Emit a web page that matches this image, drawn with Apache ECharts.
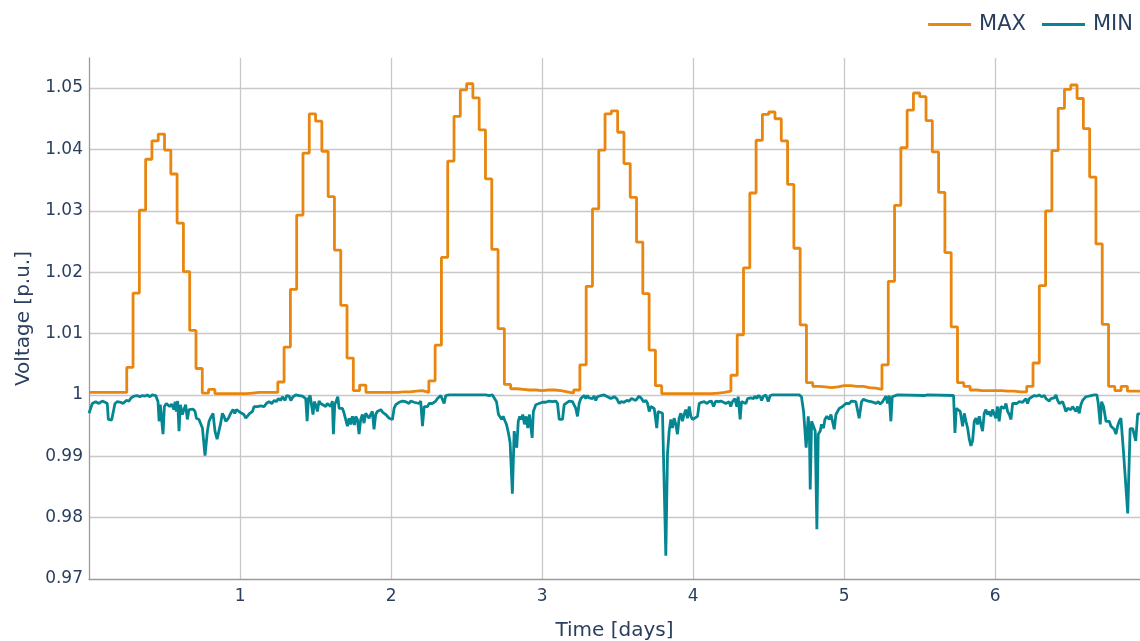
<!DOCTYPE html>
<html>
<head>
<meta charset="utf-8">
<script src="https://cdn.jsdelivr.net/npm/echarts@6/dist/echarts.min.js"></script>
<style>
  html, body { margin: 0; padding: 0; background: #fff; }
  #chart { width: 1140px; height: 641px; }
</style>
</head>
<body>
<div id="chart"></div>
<script>
// hourly maximum voltage, one row per day (24 values)
var maxDay0 = [1.0004, 1.0004, 1.0004, 1.0004, 1.0004, 1.0004, 1.0045, 1.0166, 1.0301, 1.0384, 1.0414, 1.0425, 1.0399, 1.0360, 1.0280, 1.0201, 1.0105, 1.0043, 1.0003, 1.0009, 1.0002, 1.0002, 1.0002, 1.0002]
var maxDay1 = [1.0002, 1.0003, 1.0004, 1.0004, 1.0004, 1.0004, 1.0021, 1.0078, 1.0172, 1.0293, 1.0394, 1.0458, 1.0446, 1.0397, 1.0323, 1.0236, 1.0146, 1.0060, 1.0007, 1.0016, 1.0004, 1.0004, 1.0004, 1.0004]
var maxDay2 = [1.0004, 1.0005, 1.0005, 1.0006, 1.0007, 1.0004, 1.0023, 1.0081, 1.0224, 1.0381, 1.0454, 1.0497, 1.0507, 1.0484, 1.0432, 1.0352, 1.0237, 1.0108, 1.0017, 1.0010, 1.0009, 1.0008, 1.0008, 1.0007]
var maxDay3 = [1.0008, 1.0008, 1.0007, 1.0005, 1.0003, 1.0008, 1.0049, 1.0177, 1.0303, 1.0399, 1.0458, 1.0463, 1.0428, 1.0377, 1.0322, 1.0249, 1.0165, 1.0073, 1.0015, 1.0002, 1.0002, 1.0002, 1.0002, 1.0002]
var maxDay4 = [1.0002, 1.0002, 1.0002, 1.0003, 1.0004, 1.0006, 1.0032, 1.0098, 1.0207, 1.0329, 1.0415, 1.0457, 1.0461, 1.0450, 1.0414, 1.0343, 1.0239, 1.0114, 1.0020, 1.0014, 1.0013, 1.0012, 1.0013, 1.0015]
var maxDay5 = [1.0015, 1.0014, 1.0014, 1.0012, 1.0011, 1.0009, 1.0049, 1.0185, 1.0309, 1.0403, 1.0464, 1.0492, 1.0486, 1.0447, 1.0396, 1.0330, 1.0232, 1.0111, 1.0020, 1.0014, 1.0008, 1.0007, 1.0007, 1.0007]
var maxDay6 = [1.0007, 1.0006, 1.0006, 1.0005, 1.0005, 1.0014, 1.0052, 1.0178, 1.0300, 1.0398, 1.0467, 1.0498, 1.0505, 1.0483, 1.0434, 1.0355, 1.0246, 1.0115, 1.0014, 1.0007, 1.0014, 1.0006, 1.0006, 1.0007]
var maxVals = [].concat(maxDay0, maxDay1, maxDay2, maxDay3, maxDay4, maxDay5, maxDay6)

// minimum voltage, irregular time stamps [days]
var minDays = [0.000, 0.011, 0.022, 0.044, 0.066, 0.088, 0.106, 0.121, 0.128, 0.150, 0.159, 0.172, 0.188, 0.210, 0.225, 0.238, 0.247, 0.265, 0.278, 0.298,
  0.320, 0.336, 0.353, 0.371, 0.386, 0.404, 0.419, 0.442, 0.457, 0.464, 0.472, 0.481, 0.490, 0.499, 0.512, 0.525, 0.534, 0.547, 0.563, 0.570,
  0.578, 0.587, 0.596, 0.605, 0.618, 0.631, 0.640, 0.651, 0.662, 0.673, 0.689, 0.702, 0.711, 0.728, 0.740, 0.751, 0.768, 0.784, 0.795, 0.806,
  0.821, 0.834, 0.848, 0.861, 0.872, 0.883, 0.894, 0.905, 0.923, 0.938, 0.954, 0.965, 0.976, 0.993, 1.011, 1.026, 1.038, 1.049, 1.064, 1.082,
  1.093, 1.115, 1.137, 1.159, 1.174, 1.192, 1.210, 1.227, 1.241, 1.254, 1.269, 1.280, 1.298, 1.309, 1.325, 1.336, 1.351, 1.369, 1.391, 1.413,
  1.424, 1.435, 1.444, 1.453, 1.464, 1.475, 1.483, 1.492, 1.501, 1.512, 1.523, 1.534, 1.545, 1.567, 1.578, 1.589, 1.600, 1.611, 1.618, 1.627,
  1.638, 1.647, 1.656, 1.667, 1.678, 1.689, 1.700, 1.711, 1.722, 1.733, 1.744, 1.757, 1.766, 1.777, 1.788, 1.799, 1.810, 1.821, 1.832, 1.854,
  1.865, 1.876, 1.887, 1.898, 1.909, 1.921, 1.932, 1.943, 1.954, 1.965, 1.976, 1.987, 1.998, 2.009, 2.020, 2.031, 2.053, 2.075, 2.097, 2.108,
  2.119, 2.130, 2.141, 2.152, 2.163, 2.185, 2.196, 2.208, 2.219, 2.230, 2.241, 2.252, 2.263, 2.274, 2.296, 2.307, 2.318, 2.329, 2.340, 2.351,
  2.362, 2.384, 2.627, 2.649, 2.671, 2.682, 2.698, 2.711, 2.720, 2.733, 2.742, 2.755, 2.764, 2.777, 2.788, 2.803, 2.815, 2.822, 2.832, 2.842,
  2.852, 2.862, 2.872, 2.883, 2.894, 2.905, 2.916, 2.927, 2.934, 2.942, 2.958, 2.980, 3.002, 3.024, 3.046, 3.068, 3.091, 3.102, 3.113, 3.124,
  3.135, 3.146, 3.157, 3.179, 3.201, 3.212, 3.223, 3.234, 3.245, 3.256, 3.267, 3.278, 3.289, 3.300, 3.311, 3.322, 3.333, 3.344, 3.355, 3.366,
  3.389, 3.400, 3.411, 3.433, 3.455, 3.477, 3.494, 3.510, 3.525, 3.543, 3.561, 3.576, 3.592, 3.605, 3.620, 3.631, 3.642, 3.658, 3.671, 3.687,
  3.698, 3.709, 3.720, 3.731, 3.742, 3.753, 3.759, 3.768, 3.781, 3.797, 3.808, 3.819, 3.830, 3.841, 3.852, 3.863, 3.874, 3.885, 3.896, 3.907,
  3.918, 3.929, 3.940, 3.951, 3.962, 3.974, 3.985, 3.996, 4.007, 4.029, 4.040, 4.055, 4.073, 4.091, 4.106, 4.121, 4.135, 4.150, 4.166, 4.183,
  4.201, 4.216, 4.227, 4.238, 4.249, 4.260, 4.276, 4.289, 4.298, 4.311, 4.320, 4.333, 4.349, 4.360, 4.371, 4.382, 4.400, 4.408, 4.422, 4.430,
  4.444, 4.453, 4.466, 4.481, 4.497, 4.510, 4.525, 4.702, 4.717, 4.731, 4.740, 4.748, 4.762, 4.770, 4.775, 4.784, 4.797, 4.808, 4.819, 4.828,
  4.841, 4.850, 4.863, 4.872, 4.885, 4.901, 4.912, 4.923, 4.934, 4.945, 4.956, 4.967, 4.978, 4.989, 5.000, 5.011, 5.022, 5.033, 5.049, 5.062,
  5.077, 5.088, 5.099, 5.110, 5.115, 5.128, 5.143, 5.159, 5.177, 5.194, 5.210, 5.225, 5.238, 5.254, 5.265, 5.276, 5.287, 5.298, 5.309, 5.318,
  5.331, 5.353, 5.530, 5.541, 5.552, 5.724, 5.733, 5.742, 5.755, 5.768, 5.784, 5.795, 5.806, 5.817, 5.828, 5.839, 5.850, 5.861, 5.872, 5.883,
  5.894, 5.905, 5.916, 5.927, 5.938, 5.949, 5.960, 5.971, 5.982, 5.993, 6.004, 6.015, 6.026, 6.038, 6.049, 6.060, 6.071, 6.082, 6.093, 6.104,
  6.115, 6.126, 6.143, 6.159, 6.170, 6.181, 6.192, 6.203, 6.214, 6.225, 6.236, 6.258, 6.276, 6.291, 6.307, 6.325, 6.336, 6.347, 6.358, 6.369,
  6.380, 6.391, 6.402, 6.413, 6.424, 6.435, 6.446, 6.457, 6.468, 6.479, 6.490, 6.501, 6.512, 6.523, 6.534, 6.545, 6.556, 6.567, 6.578, 6.589,
  6.600, 6.611, 6.634, 6.656, 6.673, 6.682, 6.695, 6.704, 6.717, 6.733, 6.744, 6.755, 6.766, 6.777, 6.788, 6.799, 6.810, 6.821, 6.832, 6.850,
  6.877, 6.893, 6.910, 6.930, 6.943, 6.958]
var minVals = [0.9970, 0.9978, 0.9986, 0.9989, 0.9986, 0.9990, 0.9988, 0.9986, 0.9960, 0.9959, 0.9960, 0.9986, 0.9989, 0.9988, 0.9986, 0.9984, 0.9991, 0.9990, 0.9995, 0.9998,
  0.9999, 0.9997, 0.9999, 0.9998, 1.0000, 0.9997, 1.0000, 0.9999, 0.9989, 0.9957, 0.9984, 0.9981, 0.9936, 0.9981, 0.9986, 0.9989, 0.9981, 0.9985, 0.9976, 0.9989,
  0.9973, 0.9990, 0.9941, 0.9984, 0.9968, 0.9978, 0.9984, 0.9960, 0.9976, 0.9977, 0.9977, 0.9973, 0.9962, 0.9960, 0.9957, 0.9946, 0.9901, 0.9941, 0.9957, 0.9963,
  0.9970, 0.9941, 0.9928, 0.9930, 0.9954, 0.9970, 0.9965, 0.9957, 0.9962, 0.9970, 0.9976, 0.9970, 0.9976, 0.9973, 0.9970, 0.9968, 0.9962, 0.9963, 0.9970, 0.9973,
  0.9981, 0.9981, 0.9982, 0.9981, 0.9986, 0.9989, 0.9986, 0.9991, 0.9989, 0.9994, 0.9991, 0.9997, 0.9991, 0.9999, 0.9998, 0.9991, 0.9997, 1.0000, 0.9999, 0.9998,
  1.0000, 0.9994, 0.9957, 0.9994, 0.9999, 0.9997, 0.9968, 0.9989, 0.9984, 0.9973, 0.9990, 0.9986, 0.9989, 0.9981, 0.9986, 0.9989, 0.9981, 0.9990, 0.9936, 0.9984,
  0.9991, 0.9997, 0.9978, 0.9981, 0.9978, 0.9970, 0.9973, 0.9949, 0.9962, 0.9952, 0.9965, 0.9951, 0.9965, 0.9960, 0.9936, 0.9960, 0.9968, 0.9954, 0.9970, 0.9962,
  0.9968, 0.9973, 0.9944, 0.9968, 0.9973, 0.9970, 0.9976, 0.9972, 0.9973, 0.9968, 0.9970, 0.9962, 0.9965, 0.9960, 0.9978, 0.9984, 0.9988, 0.9990, 0.9989, 0.9991,
  0.9986, 0.9990, 0.9991, 0.9988, 0.9990, 0.9986, 0.9990, 0.9949, 0.9981, 0.9984, 0.9981, 0.9986, 0.9984, 0.9986, 0.9990, 0.9994, 0.9997, 0.9999, 1.0000, 0.9986,
  0.9999, 1.0000, 1.0000, 0.9999, 1.0000, 0.9999, 0.9989, 0.9968, 0.9970, 0.9960, 0.9965, 0.9957, 0.9952, 0.9938, 0.9922, 0.9839, 0.9941, 0.9941, 0.9914, 0.9957,
  0.9965, 0.9960, 0.9968, 0.9952, 0.9965, 0.9946, 0.9968, 0.9970, 0.9930, 0.9973, 0.9984, 0.9986, 0.9988, 0.9988, 0.9990, 0.9989, 0.9990, 0.9986, 0.9960, 0.9962,
  0.9960, 0.9984, 0.9986, 0.9990, 0.9989, 0.9986, 0.9978, 0.9965, 0.9986, 0.9994, 0.9991, 0.9999, 0.9994, 0.9999, 0.9995, 0.9997, 0.9994, 0.9998, 0.9991, 0.9997,
  0.9999, 0.9997, 1.0000, 0.9997, 0.9994, 0.9997, 0.9994, 0.9986, 0.9989, 0.9988, 0.9991, 0.9990, 0.9994, 0.9997, 0.9991, 0.9989, 0.9998, 0.9994, 0.9989, 0.9991,
  0.9986, 0.9973, 0.9981, 0.9984, 0.9978, 0.9981, 0.9946, 0.9973, 0.9973, 0.9970, 0.9973, 0.9738, 0.9904, 0.9941, 0.9960, 0.9946, 0.9962, 0.9952, 0.9936, 0.9962,
  0.9970, 0.9957, 0.9968, 0.9976, 0.9962, 0.9981, 0.9965, 0.9960, 0.9962, 0.9965, 0.9986, 0.9988, 0.9989, 0.9986, 0.9989, 0.9990, 0.9981, 0.9990, 0.9989, 0.9990,
  0.9988, 0.9986, 0.9984, 0.9989, 0.9981, 0.9989, 0.9994, 0.9981, 0.9997, 0.9960, 0.9989, 0.9991, 0.9986, 0.9994, 0.9991, 0.9995, 0.9994, 0.9998, 0.9994, 0.9999,
  0.9997, 0.9991, 0.9998, 1.0000, 0.9989, 0.9999, 1.0000, 1.0000, 0.9997, 0.9973, 0.9970, 0.9914, 0.9965, 0.9930, 0.9846, 0.9957, 0.9960, 0.9941, 0.9781, 0.9936,
  0.9941, 0.9952, 0.9946, 0.9960, 0.9965, 0.9960, 0.9968, 0.9970, 0.9944, 0.9968, 0.9973, 0.9978, 0.9976, 0.9981, 0.9981, 0.9986, 0.9989, 0.9986, 0.9990, 0.9990,
  0.9989, 0.9986, 0.9962, 0.9960, 0.9989, 0.9993, 0.9991, 0.9990, 0.9989, 0.9988, 0.9986, 0.9989, 0.9985, 0.9989, 0.9991, 0.9998, 0.9986, 0.9999, 0.9957, 0.9997,
  0.9999, 1.0000, 0.9999, 0.9997, 1.0000, 0.9999, 0.9938, 0.9978, 0.9981, 0.9973, 0.9949, 0.9970, 0.9957, 0.9946, 0.9928, 0.9917, 0.9925, 0.9957, 0.9962, 0.9952,
  0.9965, 0.9952, 0.9941, 0.9970, 0.9976, 0.9968, 0.9973, 0.9965, 0.9976, 0.9978, 0.9962, 0.9981, 0.9957, 0.9981, 0.9984, 0.9978, 0.9986, 0.9973, 0.9968, 0.9960,
  0.9986, 0.9989, 0.9986, 0.9989, 0.9991, 0.9988, 0.9990, 0.9994, 0.9986, 0.9994, 0.9997, 0.9999, 0.9998, 1.0000, 0.9997, 0.9999, 0.9994, 0.9993, 0.9990, 0.9994,
  0.9997, 0.9995, 1.0000, 0.9991, 0.9986, 0.9986, 0.9989, 0.9981, 0.9973, 0.9978, 0.9981, 0.9976, 0.9981, 0.9978, 0.9973, 0.9981, 0.9970, 0.9984, 0.9991, 0.9989,
  0.9997, 0.9999, 0.9999, 1.0000, 1.0000, 0.9986, 0.9952, 0.9989, 0.9981, 0.9957, 0.9960, 0.9957, 0.9949, 0.9952, 0.9944, 0.9936, 0.9949, 0.9957, 0.9962, 0.9904,
  0.9807, 0.9945, 0.9945, 0.9925, 0.9969, 0.9969]

var xTicks = [1, 2, 3, 4, 5, 6]
var yTicks = [0.97, 0.98, 0.99, 1, 1.01, 1.02, 1.03, 1.04, 1.05]

var textColor = '#2a3f5f'
var fontName = 'DejaVu Sans'
var maxColor = '#e8860f'
var minColor = '#048792'

var chart = echarts.init(document.getElementById('chart'))

var option = {
  animation: false,
  backgroundColor: '#ffffff',
  legend: {
    data: [{ name: 'MAX', icon: 'rect' }, { name: 'MIN', icon: 'rect' }],
    right: 2,
    top: 9,
    itemWidth: 43,
    itemHeight: 3,
    itemGap: 16,
    textStyle: {
      color: textColor,
      fontSize: 21,
      fontFamily: fontName,
      padding: [0, 0, 0, 3]
    }
  },
  grid: {
    left: 89,
    right: 0,
    top: 58,
    bottom: 62,
    outerBoundsMode: 'none'
  },
  xAxis: {
    type: 'value',
    min: 0,
    max: 167 / 24,
    interval: 1,
    name: 'Time [days]',
    nameLocation: 'middle',
    nameGap: 42,
    nameTextStyle: { color: textColor, fontSize: 20, fontFamily: fontName },
    axisLine: { show: true, lineStyle: { color: '#9a9a9a', width: 1.3 } },
    axisTick: { show: false },
    axisLabel: {
      color: textColor,
      fontSize: 17,
      fontFamily: fontName,
      margin: 9,
      showMinLabel: false,
      showMaxLabel: false,
      formatter: function (v) {
        return xTicks.indexOf(v) >= 0 ? String(v) : ''
      }
    },
    splitLine: {
      show: true,
      showMinLine: false,
      showMaxLine: false,
      lineStyle: { color: '#c8c8c8', width: 1.3 }
    }
  },
  yAxis: {
    type: 'value',
    min: 0.97,
    max: 1.0549,
    interval: 0.01,
    name: 'Voltage [p.u.]',
    nameLocation: 'middle',
    nameGap: 52,
    nameTextStyle: { color: textColor, fontSize: 20, fontFamily: fontName },
    axisLine: { show: true, lineStyle: { color: '#9a9a9a', width: 1.3 } },
    axisTick: { show: false },
    axisLabel: {
      color: textColor,
      fontSize: 17,
      fontFamily: fontName,
      margin: 6,
      showMaxLabel: false,
      formatter: function (v) {
        var r = +v.toFixed(2)
        return yTicks.indexOf(r) >= 0 ? String(r) : ''
      }
    },
    splitLine: {
      show: true,
      showMinLine: false,
      showMaxLine: false,
      lineStyle: { color: '#c8c8c8', width: 1.3 }
    }
  },
  series: [
    {
      name: 'MAX',
      type: 'line',
      step: 'end',
      symbol: 'none',
      data: maxVals.map(function (v, i) { return [i / 24, v] }),
      lineStyle: { color: maxColor, width: 2.8 },
      itemStyle: { color: maxColor }
    },
    {
      name: 'MIN',
      type: 'line',
      symbol: 'none',
      data: minDays.map(function (d, i) { return [d, minVals[i]] }),
      lineStyle: { color: minColor, width: 2.8 },
      itemStyle: { color: minColor }
    }
  ]
}

chart.setOption(option)
</script>
</body>
</html>
